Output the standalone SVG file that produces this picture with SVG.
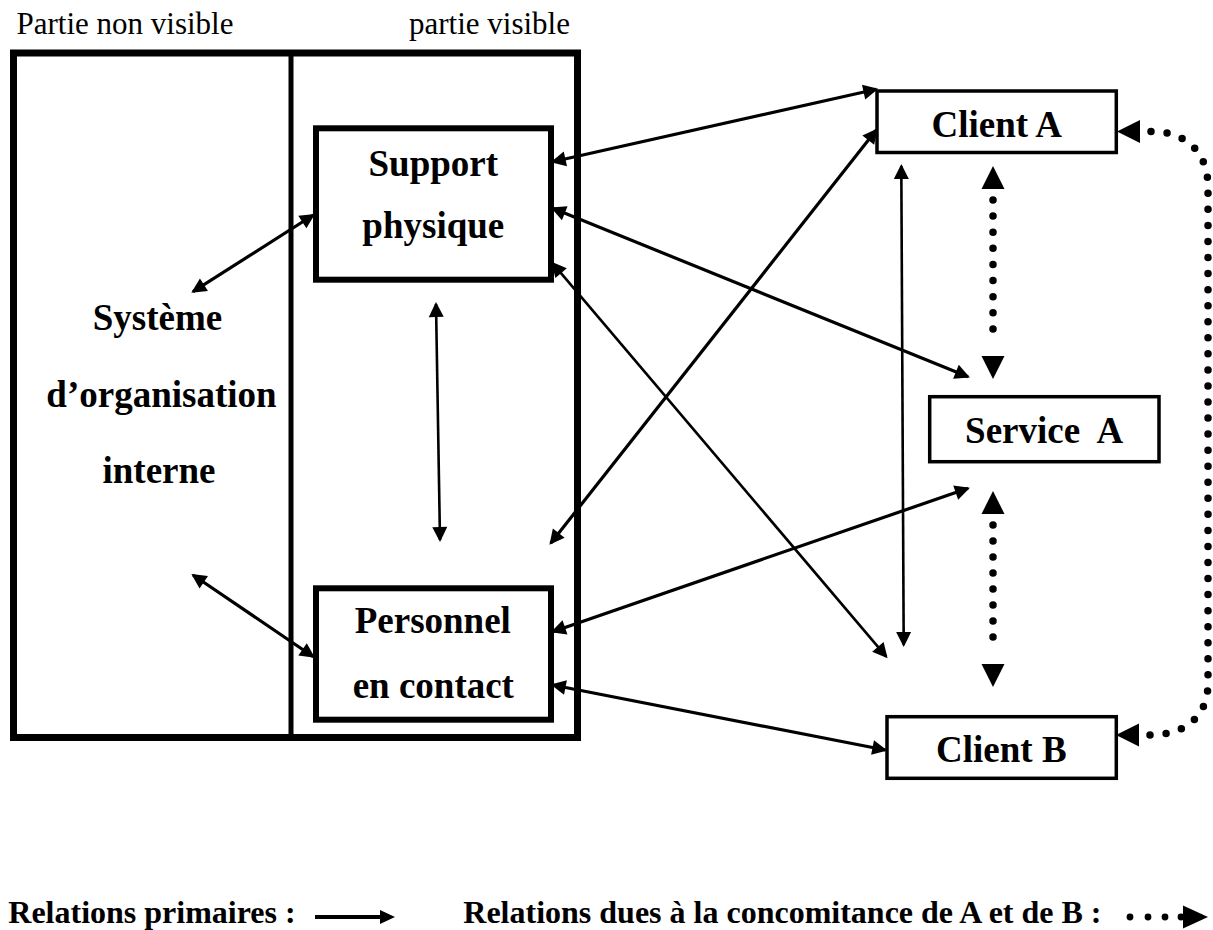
<svg xmlns="http://www.w3.org/2000/svg" width="1213" height="930" viewBox="0 0 1213 930">
  <style>
    .lbl { font-family: "Liberation Serif", "Times New Roman", serif; fill: #000; }
    .reg { font-size: 31px; }
    .node { font-size: 37px; font-weight: bold; text-anchor: middle; }
    .legend { font-size: 32px; font-weight: bold; }
    .frame { fill: none; stroke: #000; stroke-width: 7; }
    .inner { fill: #fff; stroke: #000; stroke-width: 6; }
    .box { fill: #fff; stroke: #000; stroke-width: 3.5; }
    .rel { fill: none; stroke: #000; stroke-width: 3.2; marker-start: url(#head); marker-end: url(#head); }
    .rel.thin { stroke-width: 2.6; }
    .dots { fill: none; stroke: #000; stroke-width: 7.5; stroke-linecap: round; stroke-dasharray: 0 1; marker-start: url(#dothead); marker-end: url(#dothead); }
  </style>
  <defs>
    <!-- solid triangular head for primary relations -->
    <marker id="head" markerUnits="userSpaceOnUse" markerWidth="16" markerHeight="15" refX="13" refY="7.5" orient="auto-start-reverse" overflow="visible">
      <path d="M0,0 L15,7.5 L0,15 z" fill="#000"/>
    </marker>
    <!-- larger head, set off from the last dot, for concomitance relations -->
    <marker id="dothead" markerUnits="userSpaceOnUse" markerWidth="34" markerHeight="23" refX="0" refY="11.5" orient="auto-start-reverse" overflow="visible">
      <path d="M11,0 L34,11.5 L11,23 z" fill="#000"/>
    </marker>
  </defs>

  <rect width="1213" height="930" fill="#fff"/>

  <!-- headings above the organisation frame -->
  <text class="lbl reg" x="16.5" y="34">Partie non visible</text>
  <text class="lbl reg" x="409" y="34">partie visible</text>

  <!-- organisation frame: hidden part | visible part -->
  <g id="organisation">
    <rect class="frame" x="13.5" y="53" width="564" height="684.5"/>
    <line x1="291" y1="53" x2="291" y2="737.5" stroke="#000" stroke-width="5"/>
  </g>

  <g id="systeme">
    <text class="lbl node" x="157.5" y="330">Système</text>
    <text class="lbl node" x="161.5" y="406.5">d’organisation</text>
    <text class="lbl node" x="159" y="483">interne</text>
  </g>

  <g id="support">
    <rect class="inner" x="316" y="128.3" width="235" height="151.4"/>
    <text class="lbl node" x="433.3" y="176">Support</text>
    <text class="lbl node" x="433.3" y="238.3">physique</text>
  </g>

  <g id="personnel">
    <rect class="inner" x="316" y="588.3" width="235" height="131.4"/>
    <text class="lbl node" x="432.8" y="633.3">Personnel</text>
    <text class="lbl node" x="433.3" y="698.3">en contact</text>
  </g>

  <g id="clientA">
    <rect class="box" x="877" y="91" width="239.3" height="61.5"/>
    <text class="lbl node" x="996.8" y="137.3">Client A</text>
  </g>

  <g id="serviceA">
    <rect class="box" x="929.7" y="396.7" width="229.3" height="65"/>
    <text class="lbl node" x="1044.2" y="442.7" xml:space="preserve" style="white-space:pre">Service  A</text>
  </g>

  <g id="clientB">
    <rect class="box" x="887" y="716.7" width="229.3" height="61.6"/>
    <text class="lbl node" x="1001.3" y="761.7">Client B</text>
  </g>

  <g id="connectors">
    <!-- primary relations -->
    <line class="rel" x1="313.3" y1="215" x2="193" y2="291.7"/>
    <line class="rel" x1="193" y1="575" x2="313.3" y2="656.7"/>
    <line class="rel thin" x1="436" y1="304" x2="440" y2="540"/>
    <line class="rel" x1="552.7" y1="161.7" x2="876.3" y2="89.3"/>
    <line class="rel" x1="552.7" y1="208.3" x2="968" y2="376.7"/>
    <line class="rel thin" x1="552.7" y1="263.3" x2="886.3" y2="656.7"/>
    <line class="rel" x1="876.3" y1="130" x2="550.7" y2="543.3"/>
    <line class="rel thin" x1="901.3" y1="166" x2="903.7" y2="645"/>
    <line class="rel" x1="552.7" y1="631.7" x2="968" y2="488.3"/>
    <line class="rel" x1="552.7" y1="685" x2="885.3" y2="750"/>

    <!-- relations due to the concomitance of A and B -->
    <path class="dots" pathLength="9" d="M993,200 L993,345"/>
    <path class="dots" pathLength="8" d="M993,525 L993,653"/>
    <path class="dots" pathLength="42" d="M1151,131.5 C1186,131.5 1208,152 1208,187 L1208,683 C1208,716 1186,735 1150,735"/>
  </g>

  <!-- legend -->
  <g id="legend">
    <text class="lbl legend" x="8.3" y="923">Relations primaires :</text>
    <line x1="315" y1="917" x2="382" y2="917" stroke="#000" stroke-width="4"/>
    <path d="M380,910 L395,917 L380,924 z" fill="#000"/>
    <text class="lbl legend" x="463.3" y="923">Relations dues à la concomitance de A et de B :</text>
    <g fill="#000">
      <circle cx="1130" cy="917" r="3.4"/>
      <circle cx="1148" cy="917" r="3.4"/>
      <circle cx="1165" cy="917" r="3.4"/>
      <circle cx="1181" cy="917" r="3.4"/>
      <path d="M1183,905.5 L1208,917 L1183,928.5 z"/>
    </g>
  </g>
</svg>
